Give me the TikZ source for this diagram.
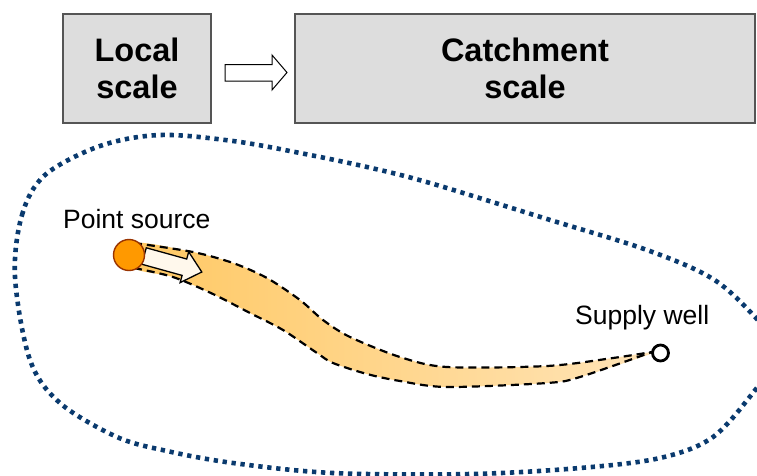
\documentclass[tikz,border=0pt]{standalone}
\usepackage{fontspec}
\setmainfont{Liberation Sans}
\usetikzlibrary{shapes.geometric}
\definecolor{boxfill}{HTML}{DDDDDD}
\definecolor{boxline}{HTML}{555555}
\definecolor{navy}{HTML}{0A3A6E}
\definecolor{plumeA}{HTML}{FFC862}
\definecolor{plumeB}{HTML}{FFE4B8}
\definecolor{srcfill}{HTML}{FF9900}
\definecolor{srcline}{HTML}{993300}
\definecolor{cream}{HTML}{FFF8EC}
\tikzset{
  scalebox/.style={draw=boxline, fill=boxfill, line width=1.4pt, inner sep=0pt,
    align=center, font=\fontsize{32.5}{37}\selectfont\bfseries},
  lbl/.style={inner sep=0pt, font=\fontsize{26.5}{30}\selectfont},
  boundary/.style={draw=navy, line width=4.6pt, dash pattern=on 4.3pt off 4.7pt},
  plumeline/.style={draw=black, line width=2.2pt, dash pattern=on 8pt off 5pt},
  hollowarrow/.style={draw=black, line width=1pt, fill=white, line join=miter}
}
\begin{document}
\begin{tikzpicture}[x=1pt,y=-1pt]
\useasboundingbox (0,0) rectangle (757,475);
\clip (0,0) rectangle (757,475);
% boxes
\node[scalebox, minimum width=148pt, minimum height=109pt] (local) at (137,68.5) {Local\\scale};
\node[scalebox, minimum width=460pt, minimum height=109pt] (catch) at (525,68.5) {Catchment\\scale};
% hollow arrow between boxes
\draw[hollowarrow] (225,64.5) -- (272,64.5) -- (272,55) -- (287,72.5) -- (272,90) -- (272,81) -- (225,81) -- cycle;
% catchment boundary
\draw[boundary] plot[smooth cycle, tension=0.55] coordinates {
 (15,277) (22,215) (45,175) (100,146) (160,135) (233,141) (300,153) (367,167)
 (430,183) (547,219) (647,250) (713,279) (756,318) (782,352) (756,389)
 (713,437) (660,458) (580,468) (470,474) (333,473) (233,463) (167,451)
 (117,437) (60,403) (30,360)};
% plume
\path[left color=plumeA, right color=plumeB] plot[smooth cycle, tension=0.5] coordinates {
 (134,243) (193,252) (233,263) (267,278) (300,300) (323,320) (350,337) (400,357)
 (447,367) (547,366) (613,358) (652,352)
 (645,356) (580,377) (547,383) (447,387) (400,381) (367,374) (333,363)
 (317,353) (283,330) (250,313) (213,294) (173,277) (134,268)};
\draw[plumeline] plot[smooth, tension=0.5] coordinates {
 (134,243) (193,252) (233,263) (267,278) (300,300) (323,320) (350,337) (400,357)
 (447,367) (547,366) (613,358) (652,352)};
\draw[plumeline] plot[smooth, tension=0.5] coordinates {
 (134,268) (173,277) (213,294) (250,313) (283,330) (317,353) (333,363)
 (367,374) (400,381) (447,387) (547,383) (580,377) (652,352)};
% flow arrow
\draw[hollowarrow, line width=1.3pt, fill=cream] (146.3,247.8) -- (186.7,259.0) -- (188.7,251.8) -- (201.8,272.0)
  -- (180.1,282.6) -- (182.1,275.4) -- (141.7,264.2) -- cycle;
% source and well
\node[circle, fill=srcfill, draw=srcline, line width=1.4pt, minimum size=31pt, inner sep=0pt] (src) at (129,255) {};
\node[circle, draw=black, fill=white, line width=2.8pt, minimum size=16pt, inner sep=0pt] (well) at (660.5,353) {};
% labels
\node[lbl, anchor=base west] (srclbl) at (63,228) {Point source};
\node[lbl, anchor=base west] (welllbl) at (575,324) {Supply well};
\end{tikzpicture}
\end{document}
